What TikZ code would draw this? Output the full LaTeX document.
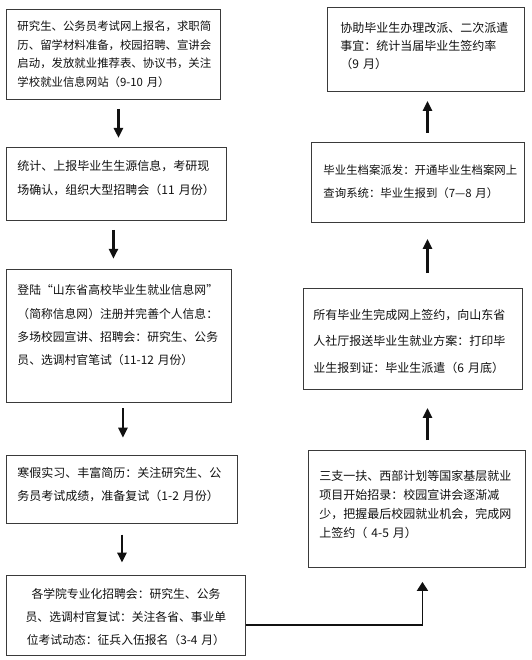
\documentclass[tikz,border=0pt]{standalone}
\usepackage{fontspec}
\newfontfamily\cjk{Noto Sans CJK SC}
\usetikzlibrary{positioning,arrows.meta}
\definecolor{Frame}{HTML}{3A3A3A}
\definecolor{Ink}{HTML}{111111}
\hfuzz=12pt

\begin{document}
\begin{tikzpicture}[
        x=1pt, y=-1pt,
        card/.style={draw=Frame, line width=0.9pt, fill=white, text=Ink,
                     anchor=north west, inner ysep=0pt, inner xsep=11pt,
                     align=left},
        flow/.style={draw=Ink, line width=2.6pt,
                     -{Triangle[width=9pt,length=10pt]}},
        link/.style={draw=Ink, line width=1.9pt,
                     -{Triangle[width=11pt,length=9pt]}}
      ]
        \useasboundingbox[fill=white] (0,0) rectangle (531,660);
        % left column, from September down to April
        \node[card, text width=192pt, text height=21.4pt, text depth=68.6pt,
              font=\cjk\fontsize{11.4}{18.5}\selectfont] (sep) at (6,9)
          {研究生、公务员考试网上报名，求职简\\历、留学材料准备，校园招聘、宣讲会\\启动，发放就业推荐表、协议书，关注\\学校就业信息网站（9-10 月）};
        \node[card, text width=198pt, text height=23.6pt, text depth=49.4pt,
              font=\cjk\fontsize{12}{24}\selectfont,
              below=47pt of sep.south west, anchor=north west] (nov)
          {统计、上报毕业生生源信息，考研现\\场确认，组织大型招聘会（11 月份）};
        \node[card, text width=203pt, text height=25.5pt, text depth=107.5pt,
              font=\cjk\fontsize{11.8}{23.4}\selectfont,
              below=48pt of nov.south west, anchor=north west] (dec)
          {登陆“山东省高校毕业生就业信息网”\\（简称信息网）注册并完善个人信息：\\多场校园宣讲、招聘会：研究生、公务\\员、选调村官笔试（11-12 月份）};
        \node[card, text width=209pt, text height=22.6pt, text depth=45.4pt,
              font=\cjk\fontsize{12}{23}\selectfont,
              below=52pt of dec.south west, anchor=north west] (feb)
          {寒假实习、丰富简历：关注研究生、公\\务员考试成绩，准备复试（1-2 月份）};
        \node[card, text width=217pt, text height=23.5pt, text depth=56.5pt,
              align=center, font=\cjk\fontsize{11.8}{23}\selectfont,
              below=51pt of feb.south west, anchor=north west] (apr)
          {各学院专业化招聘会：研究生、公务\\员、选调村官复试：关注各省、事业单\\位考试动态：征兵入伍报名（3-4 月）};
        % right column, from May back up to September
        \node[card, text width=195pt, text height=29.6pt, text depth=87.4pt,
              font=\cjk\fontsize{12}{19}\selectfont] (may) at (308,450)
          {三支一扶、西部计划等国家基层就业\\项目开始招录：校园宣讲会逐渐减\\少，把握最后校园就业机会，完成网\\上签约（ 4-5 月）};
        \node[card, inner xsep=10pt, text width=199pt, text height=30.6pt, text depth=70.4pt,
              font=\cjk\fontsize{12}{26.5}\selectfont] (jun) at (303,288)
          {所有毕业生完成网上签约，向山东省\\人社厅报送毕业生就业方案：打印毕\\业生报到证：毕业生派遣（6 月底）};
        \node[card, inner xsep=12pt, text width=189pt, text height=32.4pt, text depth=47.6pt,
              font=\cjk\fontsize{11.4}{23}\selectfont] (aug) at (311,142)
          {毕业生档案派发：开通毕业生档案网上\\查询系统：毕业生报到（7—8 月）};
        \node[card, inner xsep=13pt, text width=171pt, text height=24.6pt, text depth=59.4pt,
              font=\cjk\fontsize{12}{18}\selectfont] (fin) at (327,7)
          {协助毕业生办理改派、二次派遣\\事宜：统计当届毕业生签约率\\（9 月）};
        % arrows
        \draw[flow, shorten <=9pt, shorten >=9pt] ([xshift=5pt]sep.south) -- ([xshift=5pt]sep.south |- nov.north);
        \draw[flow, shorten <=9pt, shorten >=10pt] ([xshift=-3pt]nov.south) -- ([xshift=-3pt]nov.south |- dec.north);
        \draw[flow, shorten <=5.5pt, shorten >=17pt] ([xshift=4pt]dec.south) -- ([xshift=4pt]dec.south |- feb.north);
        \draw[flow, shorten <=11pt, shorten >=12pt] (feb.south) -- (feb.south |- apr.north);
        \draw[link, shorten >=14pt] ([yshift=-10pt]apr.east) -| ([xshift=5.5pt]may.south);
        \draw[flow, shorten <=10pt, shorten >=18pt] ([xshift=10.5pt]may.north) -- ([xshift=10.5pt]may.north |- jun.south);
        \draw[flow, shorten <=15pt, shorten >=16pt] ([xshift=14.5pt]jun.north) -- ([xshift=14.5pt]jun.north |- aug.south);
        \draw[flow, shorten <=9pt, shorten >=9pt] ([xshift=9.5pt]aug.north) -- ([xshift=9.5pt]aug.north |- fin.south);
      \end{tikzpicture}
\end{document}
